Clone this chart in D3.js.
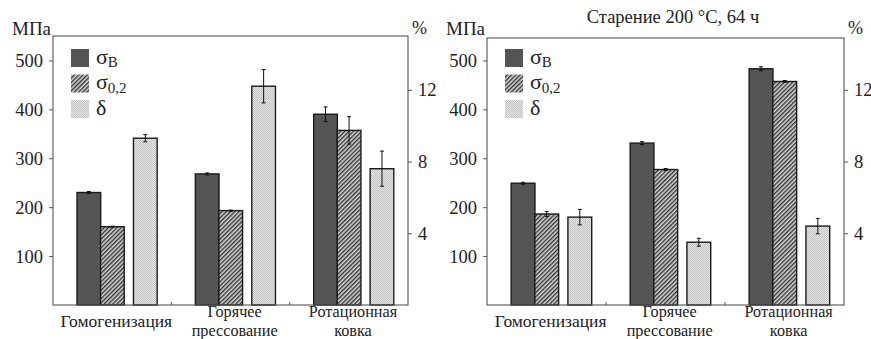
<!DOCTYPE html>
<html>
<head>
<meta charset="utf-8">
<script src="https://cdn.jsdelivr.net/npm/d3@7"></script>
<style>
  html, body { margin: 0; padding: 0; background: #fff; }
  svg text { font-family: "Liberation Serif", "Times New Roman", Times, "DejaVu Serif", serif !important; }
</style>
</head>
<body>
<svg id="chart" width="871" height="339"></svg>
<script>
// Processing routes (multi-line labels)
const categories = [
  ["Гомогенизация"],
  ["Горячее", "прессование"],
  ["Ротационная", "ковка"]
];

// Before ageing
const sigmaB_initial      = [230, 268, 390];
const sigmaB_initial_err  = [2, 2, 15];
const sigma02_initial     = [160, 193, 357];
const sigma02_initial_err = [1, 1, 28];
const delta_initial       = [9.3, 12.2, 7.6];
const delta_initial_err   = [0.2, 0.93, 0.98];

// After ageing 200 °C, 64 h
const sigmaB_aged      = [249, 331, 483];
const sigmaB_aged_err  = [2, 3, 4];
const sigma02_aged     = [186, 277, 457];
const sigma02_aged_err = [5, 2, 2];
const delta_aged       = [4.9, 3.5, 4.4];
const delta_aged_err   = [0.43, 0.22, 0.43];

const mpaTicks = [100, 200, 300, 400, 500];
const pctTicks = [4, 8, 12];
const agedTitle = "Старение 200 °C, 64 ч";

const svg = d3.select("#chart");
const defs = svg.append("defs");

// diagonal hatch for σ0,2
const hatch = defs.append("pattern")
  .attr("id", "hatch").attr("patternUnits", "userSpaceOnUse")
  .attr("width", 3).attr("height", 3)
  .attr("patternTransform", "rotate(45)");
hatch.append("rect").attr("width", 3).attr("height", 3).attr("fill", "#d6d6d6");
hatch.append("line").attr("x1", 0.7).attr("y1", 0).attr("x2", 0.7).attr("y2", 3)
  .attr("stroke", "#333").attr("stroke-width", 1.4);

// fine stipple for δ
const dots = defs.append("pattern")
  .attr("id", "dots").attr("patternUnits", "userSpaceOnUse")
  .attr("width", 2).attr("height", 2);
dots.append("rect").attr("width", 2).attr("height", 2).attr("fill", "#e6e6e6");
dots.append("rect").attr("width", 1).attr("height", 1).attr("fill", "#c2c2c2");
dots.append("rect").attr("x", 1).attr("y", 1).attr("width", 1).attr("height", 1).attr("fill", "#c2c2c2");

const series = [
  { key: "sB",  fill: "#555555",    axis: "mpa" },
  { key: "s02", fill: "url(#hatch)", axis: "mpa" },
  { key: "d",   fill: "url(#dots)",  axis: "pct" }
];
// bar offsets inside each category, as fraction of the band
const barOffset = d3.scaleOrdinal().domain(["sB", "s02", "d"]).range([0.203, 0.402, 0.68]);
const barFrac = 0.2;

const bottom = 305;

function panel(opts) {
  const { x0, x1, top, data, title } = opts;
  const g = svg.append("g");

  const x = d3.scaleBand().domain(d3.range(categories.length)).range([x0, x1]).padding(0);
  const yM = d3.scaleLinear().domain([0, 550]).range([bottom, 36]);
  const yP = d3.scaleLinear().domain([0, 15]).range([bottom, 36]);
  const W = x.bandwidth();

  // bars
  series.forEach(s => {
    const ys = s.axis === "mpa" ? yM : yP;
    const vals = data[s.key], errs = data[s.key + "_err"];
    vals.forEach((v, i) => {
      const bx = x(i) + barOffset(s.key) * W;
      const bw = barFrac * W;
      g.append("rect")
        .attr("x", bx).attr("y", ys(v))
        .attr("width", bw).attr("height", bottom - ys(v))
        .attr("fill", s.fill).attr("stroke", "#1a1a1a").attr("stroke-width", 1.4);
      const cx = bx + bw / 2;
      const e = errs[i];
      g.append("line").attr("x1", cx).attr("x2", cx)
        .attr("y1", ys(v + e)).attr("y2", ys(v - e))
        .attr("stroke", "#111").attr("stroke-width", 1);
      [v + e, v - e].forEach(t => {
        g.append("line").attr("x1", cx - 2).attr("x2", cx + 2)
          .attr("y1", ys(t)).attr("y2", ys(t))
          .attr("stroke", "#111").attr("stroke-width", 1);
      });
    });
  });

  // frame
  g.append("rect").attr("x", x0).attr("y", top).attr("width", x1 - x0).attr("height", bottom - top)
    .attr("fill", "none").attr("stroke", "#555").attr("stroke-width", 1.1);

  // category separator ticks
  d3.range(1, categories.length).forEach(i => {
    g.append("line").attr("x1", x(i)).attr("x2", x(i))
      .attr("y1", bottom).attr("y2", bottom - 3)
      .attr("stroke", "#555").attr("stroke-width", 1);
  });

  // left axis (MPa)
  const la = g.append("g").attr("transform", `translate(${x0},0)`)
    .call(d3.axisLeft(yM).tickValues(mpaTicks).tickSize(4).tickPadding(6).tickFormat(d3.format("d")));
  la.select(".domain").remove();
  la.selectAll("line").attr("stroke", "#555");
  la.selectAll("text").attr("font-size", 18.5).attr("fill", "#222");

  // right axis (%)
  const ra = g.append("g").attr("transform", `translate(${x1},0)`)
    .call(d3.axisRight(yP).tickValues(pctTicks).tickSize(4).tickPadding(6).tickFormat(d3.format("d")));
  ra.select(".domain").remove();
  ra.selectAll("line").attr("stroke", "#555");
  ra.selectAll("text").attr("font-size", 18.5).attr("fill", "#222");

  // axis units
  g.append("text").attr("x", x0 - 41).attr("y", 35).attr("font-size", 19).attr("fill", "#222").text("МПа");
  g.append("text").attr("x", x1 + 4).attr("y", 34).attr("font-size", 18).attr("fill", "#222").text("%");

  // category labels
  categories.forEach((lines, i) => {
    const cx = x(i) + 0.535 * W;
    const t = g.append("text").attr("text-anchor", "middle").attr("font-size", 17.5).attr("fill", "#222");
    if (lines.length === 1) {
      t.append("tspan").attr("x", cx).attr("y", 327).text(lines[0]);
    } else {
      t.attr("font-size", 16.2);
      t.append("tspan").attr("x", cx).attr("y", 317).text(lines[0]);
      t.append("tspan").attr("x", cx).attr("y", 336).text(lines[1]);
    }
  });

  // legend
  const legend = [
    { fill: "#555555", main: "σ", sub: "B" },
    { fill: "url(#hatch)", main: "σ", sub: "0,2" },
    { fill: "url(#dots)", main: "δ", sub: "" }
  ];
  legend.forEach((l, i) => {
    const yc = 58 + i * 25.5;
    g.append("rect").attr("x", x0 + 18).attr("y", yc - 9).attr("width", 18).attr("height", 18).attr("fill", l.fill);
    const t = g.append("text").attr("x", x0 + 43).attr("y", yc + 5.5).attr("font-size", 22).attr("fill", "#222");
    t.append("tspan").text(l.main);
    if (l.sub) t.append("tspan").attr("font-size", 15).attr("dy", 3.5).text(l.sub);
  });

  if (title) {
    g.append("text").attr("x", 673).attr("y", 23).attr("text-anchor", "middle")
      .attr("font-size", 18.5).attr("fill", "#222").text(title);
  }
}

panel({
  x0: 53, x1: 408, top: 36,
  data: {
    sB: sigmaB_initial, sB_err: sigmaB_initial_err,
    s02: sigma02_initial, s02_err: sigma02_initial_err,
    d: delta_initial, d_err: delta_initial_err
  }
});

panel({
  x0: 487, x1: 844, top: 38,
  title: agedTitle,
  data: {
    sB: sigmaB_aged, sB_err: sigmaB_aged_err,
    s02: sigma02_aged, s02_err: sigma02_aged_err,
    d: delta_aged, d_err: delta_aged_err
  }
});
</script>
</body>
</html>
